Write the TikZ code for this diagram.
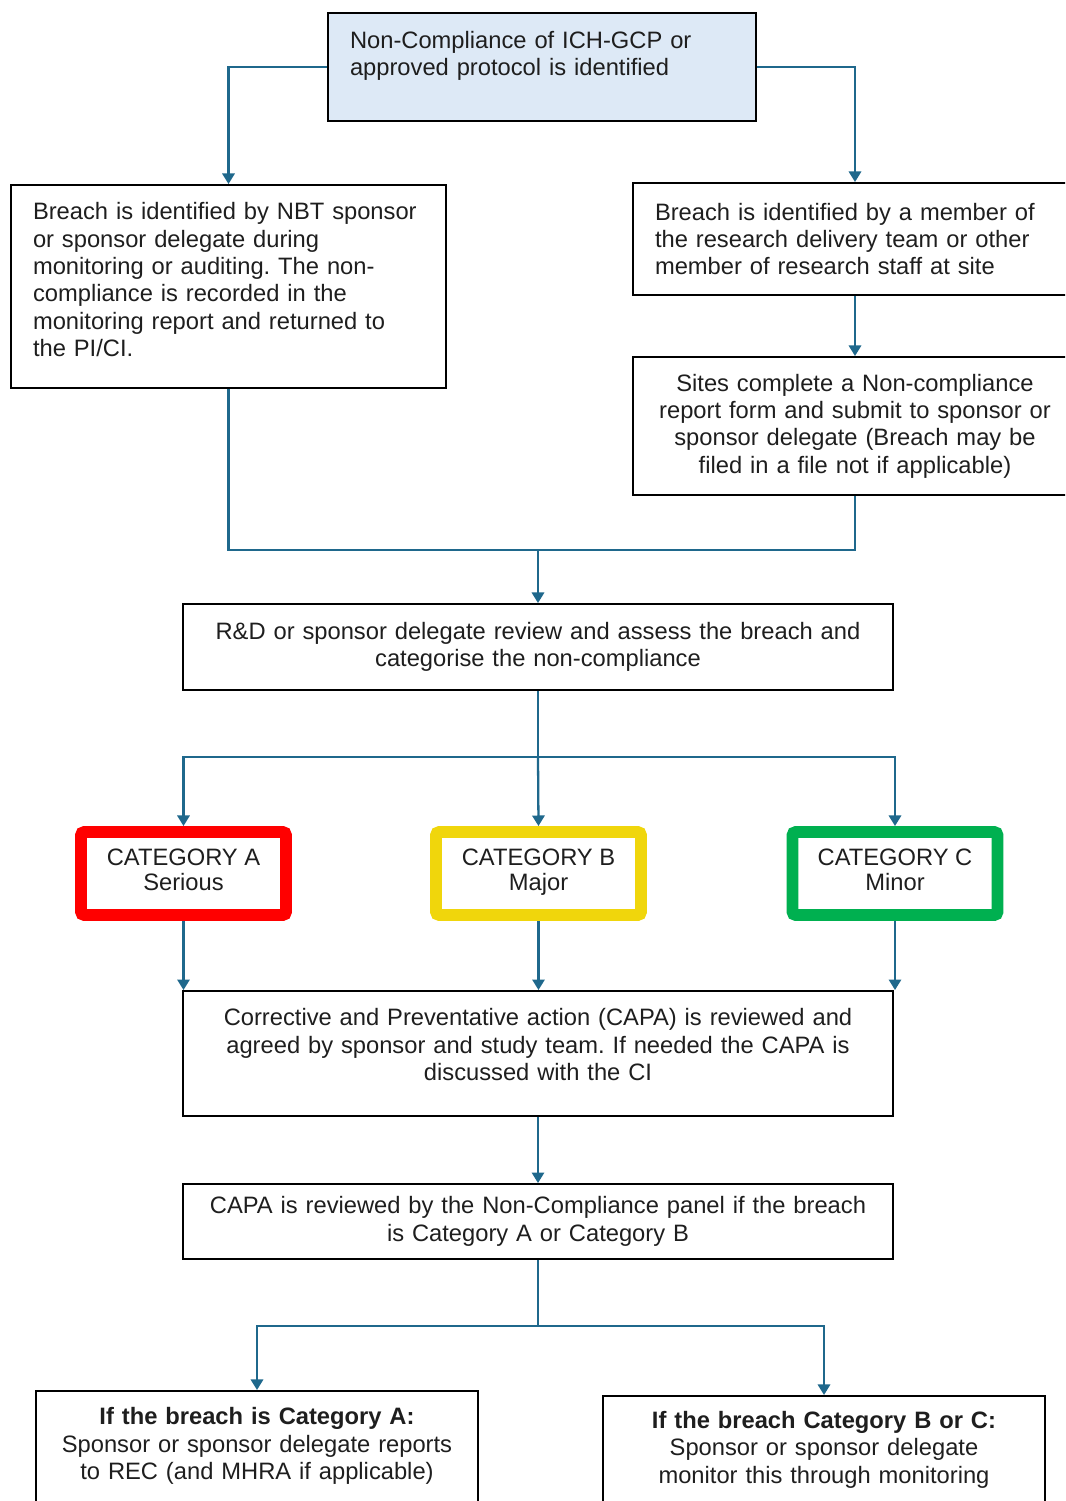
\documentclass[tikz,border=0pt]{standalone}
\usepackage{fontspec}
\setmainfont{Liberation Sans}
\usetikzlibrary{arrows.meta,positioning}

\definecolor{linkblue}{RGB}{31,104,140}
\definecolor{topfill}{RGB}{221,233,246}
\definecolor{catred}{RGB}{255,0,0}
\definecolor{catyellow}{RGB}{240,214,12}
\definecolor{catgreen}{RGB}{0,176,80}
\definecolor{txt}{RGB}{30,30,30}

\tikzset{
  box/.style={draw=black, line width=1.1pt, text=txt, inner xsep=0.44cm, inner ysep=0.2cm,
    font=\fontsize{13.5}{15.6}\selectfont},
  lbox/.style={box, align=left},
  cbox/.style={box, align=center},
  catbox/.style={draw=#1, line width=6.8pt, rounded corners=2pt, minimum width=4.1cm,
    minimum height=1.66cm, align=center, text=txt, font=\fontsize{13.5}{14.6}\selectfont,
    execute at end node=\strut},
  conn/.style={draw=linkblue, line width=1.3pt},
  arrow/.style={conn, -{Triangle[length=6pt,width=7pt]}},
}

\begin{document}
\frenchspacing
\begin{tikzpicture}

\useasboundingbox (0,0) rectangle (21.3,-30.02);
\clip (0,0) rectangle (21.3,-30.02);

%START
\node[lbox, fill=topfill, text width=7.68cm, minimum height=2.16cm] (top) at (10.84,-1.34)
  {Non-Compliance of ICH-GCP or\\ approved protocol is identified\\ \mbox{}};

%IDENTIFIED
\node[lbox, text width=7.82cm, minimum height=4.06cm] (nbt) at (4.57,-5.73)
  {Breach is identified by NBT sponsor\\ or sponsor delegate during\\ monitoring or auditing. The non-\\
   compliance is recorded in the\\ monitoring report and returned to\\ the PI/CI.\\[-7.7pt] \mbox{}};
\node[lbox, text width=8.0cm, minimum height=2.24cm] (site) at (17.1,-4.78)
  {Breach is identified by a member of\\ the research delivery team or other\\ member of research staff at site};
\node[cbox, text width=8.0cm, minimum height=2.76cm] (form) at (17.1,-8.52)
  {Sites complete a Non-compliance\\ report form and submit to sponsor or\\ sponsor delegate (Breach may be\\
   filed in a file not if applicable)};

%REVIEW
\node[cbox, text width=13.32cm, minimum height=1.72cm] (review) at (10.76,-12.94)
  {R\&D or sponsor delegate review and assess the breach and\\ categorise the non-compliance};

%CATEGORIES
\node[catbox=catred] (catA) at (3.67,-17.47) {CATEGORY A\\ Serious};
\node[catbox=catyellow] (catB) at (10.77,-17.47) {CATEGORY B\\ Major};
\node[catbox=catgreen] (catC) at (17.9,-17.47) {CATEGORY C\\ Minor};

%CAPA
\node[cbox, text width=13.32cm, minimum height=2.5cm] (capa) at (10.76,-21.07)
  {Corrective and Preventative action (CAPA) is reviewed and\\ agreed by sponsor and study team. If needed the CAPA is\\
   discussed with the CI\\[-5.4pt] \mbox{}};
\node[cbox, text width=13.32cm, minimum height=1.5cm] (panel) at (10.76,-24.43)
  {CAPA is reviewed by the Non-Compliance panel if the breach\\ is Category A or Category B};

%OUTCOMES
\node[cbox, text width=7.96cm, anchor=north, inner ysep=0.33cm] (catAout) at (5.14,-27.8)
  {\textbf{If the breach is Category A:}\\ Sponsor or sponsor delegate reports\\ to REC (and MHRA if applicable)\\ \mbox{}};
\node[cbox, text width=7.96cm, anchor=north, inner ysep=0.3cm] (catBCout) at (16.48,-27.9)
  {\textbf{If the breach Category B or C:}\\ Sponsor or sponsor delegate\\ monitor this through monitoring\\ \mbox{}};

% connection points
\coordinate (merge) at (10.76,-11.0);
\coordinate (split) at (10.76,-15.14);
\coordinate (fork) at (10.76,-26.52);

% top part
\draw[arrow] (top.west) -| (nbt.north);
\draw[arrow] (top.east) -| (site.north);
\draw[arrow] (site) -- (form);
\draw[conn] (nbt.south) |- (merge) -| (form.south);
\draw[arrow] (merge) -- (review.north);

% categories
\draw[conn] (review.south) -- (split);
\draw[arrow] (split) -| (catA.north);
\draw[arrow] (split) -- (catB.north);
\draw[arrow] (split) -| (catC.north);
\draw[arrow] (catA.south) -- (catA.south |- capa.north);
\draw[arrow] (catB.south) -- (catB.south |- capa.north);
\draw[arrow] (catC.south) -- (catC.south |- capa.north);

% bottom part
\draw[arrow] (capa) -- (panel);
\draw[conn] (panel.south) -- (fork);
\draw[arrow] (fork) -| (catAout.north);
\draw[arrow] (fork) -| (catBCout.north);

\end{tikzpicture}
\end{document}
